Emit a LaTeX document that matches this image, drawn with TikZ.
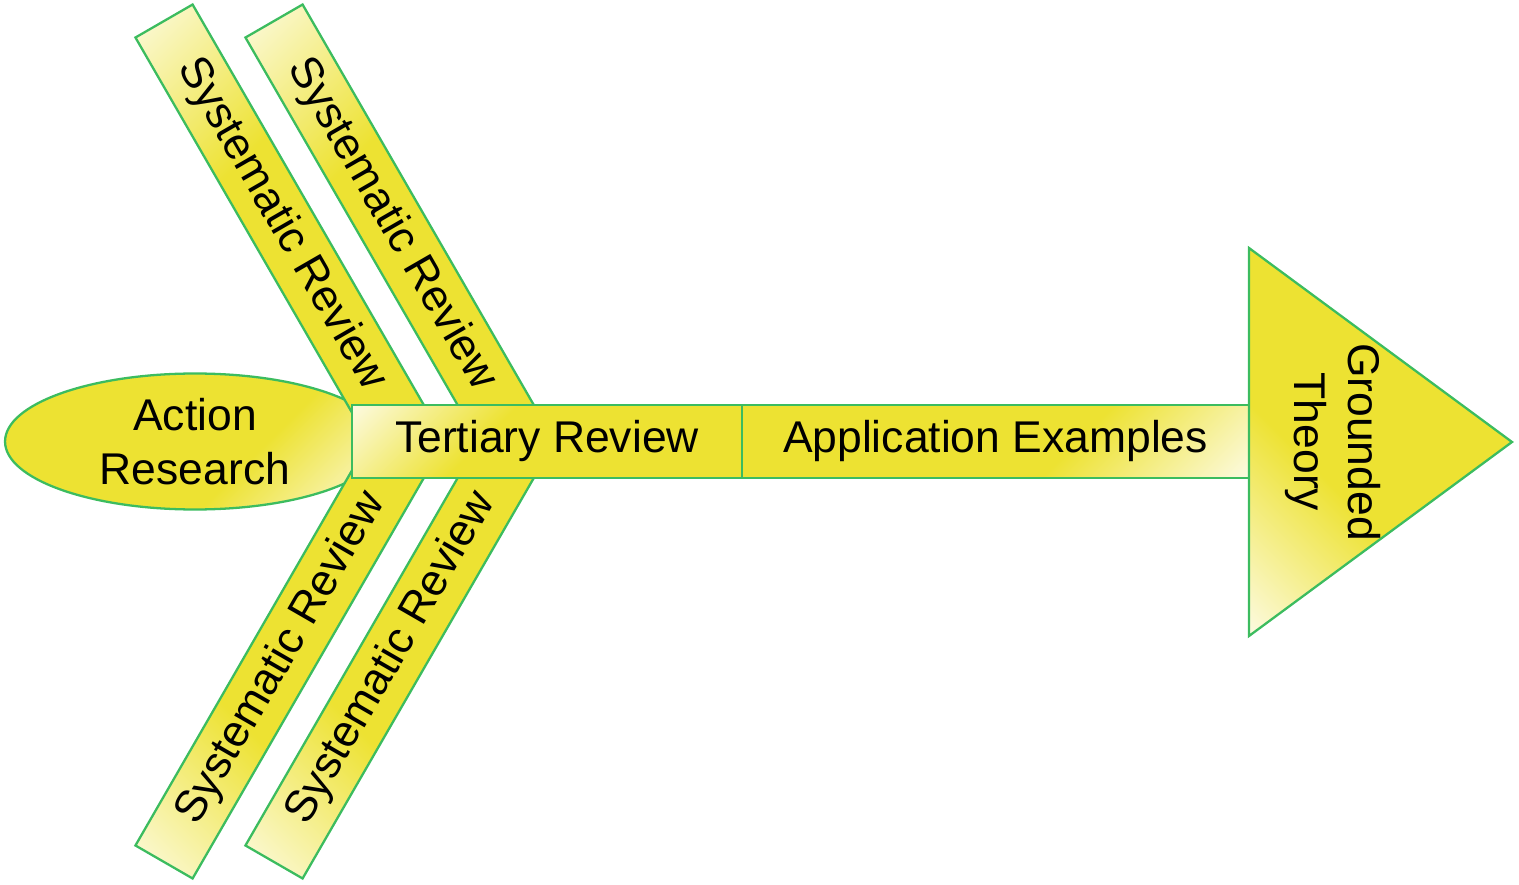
\documentclass[tikz,border=0pt]{standalone}
\usepackage{fontspec}
\setmainfont{Liberation Sans}
\usetikzlibrary{shapes.geometric}
\definecolor{yel}{RGB}{237,226,50}
\definecolor{pale}{RGB}{252,250,222}
\definecolor{edgegreen}{RGB}{60,188,95}
\pgfdeclareverticalshading{fade}{100bp}{color(0bp)=(pale); color(15bp)=(pale); color(40bp)=(yel); color(100bp)=(yel)}
\begin{document}
\begin{tikzpicture}[x=0.02cm,y=0.02cm,
  base/.style={draw=edgegreen, line width=1.3pt, shade, shading=fade, inner sep=0pt,
    font=\fontsize{25.3}{30.4}\selectfont, text=black},
  rib/.style={base, rectangle, minimum width=9.4cm, minimum height=1.32cm},
  spinebox/.style={base, rectangle, minimum height=1.46cm},
  txt/.style={inner sep=0pt, font=\fontsize{25.3}{31}\selectfont, text=black, align=center}]
\useasboundingbox (0,0) rectangle (1519,-885);
% tail
\node[base, ellipse, minimum width=7.6cm, minimum height=2.72cm, align=center, shading angle=45]
  (ar) at (195,-441.5) {Action\\Research};
% ribs
\node[rib, rotate=-60, shading angle=225] (sru1) at (281.5,-224.5) {Systematic Review};
\node[rib, rotate=-60, shading angle=225] (sru2) at (391.5,-224.5) {Systematic Review};
\node[rib, rotate=60, shading angle=-45] (srl1) at (281.5,-658.5) {Systematic Review};
\node[rib, rotate=60, shading angle=-45] (srl2) at (391.5,-658.5) {Systematic Review};
% spine
\node[spinebox, minimum width=7.8cm, shading angle=225] (tr) at (547,-441.5) {Tertiary Review};
\node[spinebox, minimum width=10.14cm, shading angle=45] (ae) at (995.5,-441.5) {Application Examples};
% head
\path[base, shading angle=-45] (1249,-248) -- (1512,-442) -- (1249,-636) -- cycle;
\node[txt, rotate=-90] (gt) at (1333,-442) {Grounded\\Theory};
\end{tikzpicture}
\end{document}
